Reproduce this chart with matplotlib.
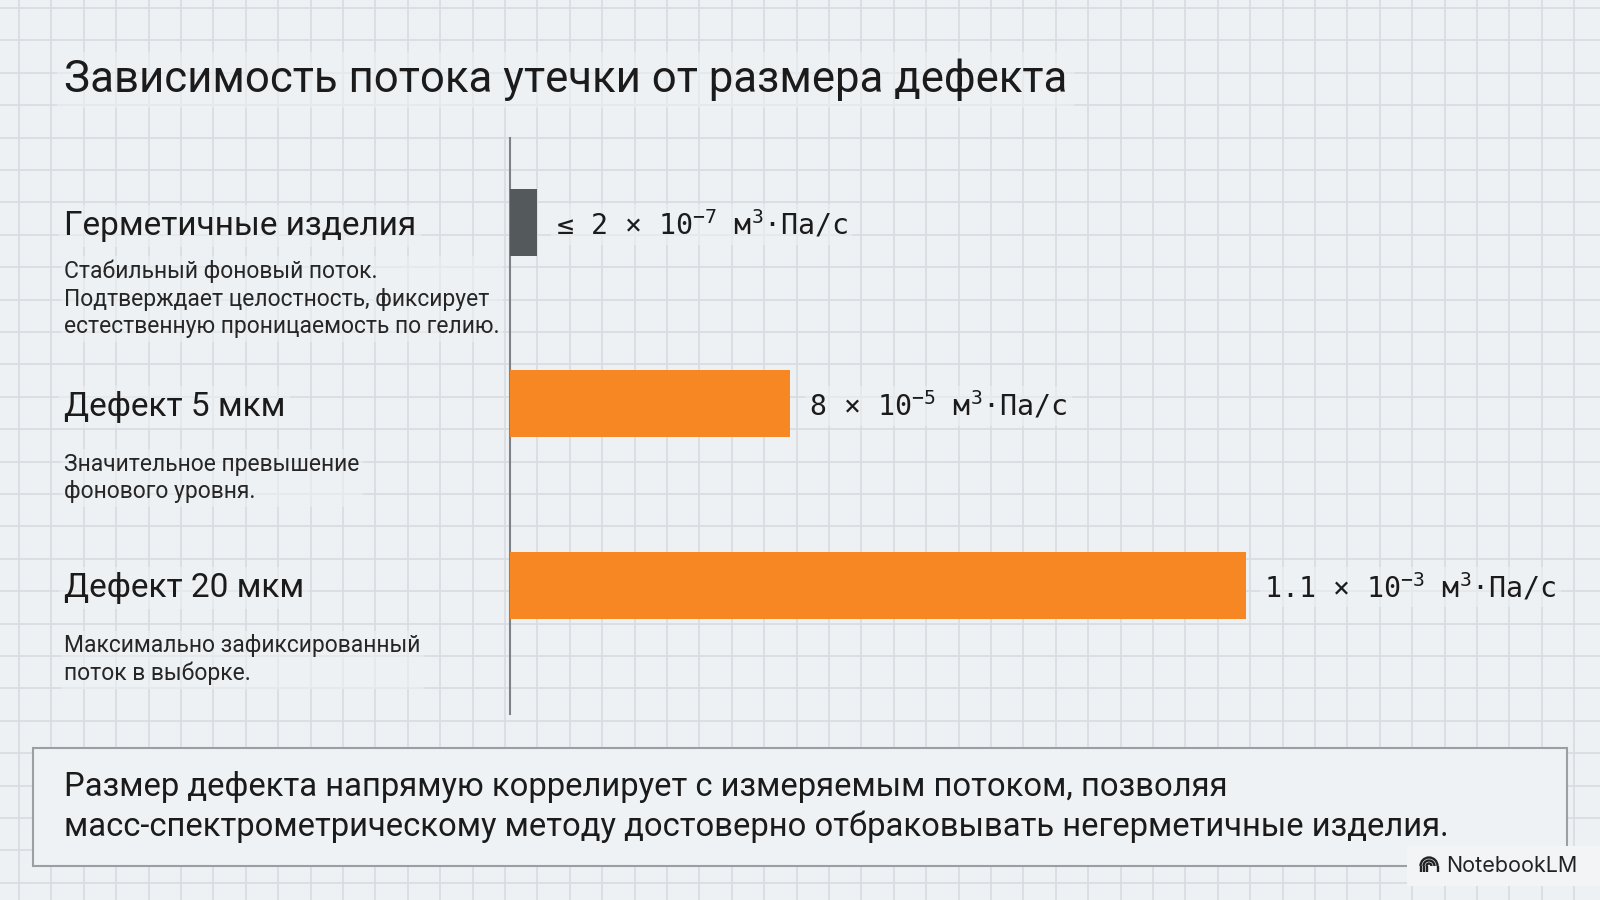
import matplotlib
matplotlib.use("Agg")
import matplotlib.pyplot as plt
from matplotlib.patches import Rectangle, Arc
from matplotlib.transforms import blended_transform_factory

mono = "DejaVu Sans Mono"
plt.rcParams["mathtext.fontset"] = "custom"
plt.rcParams["mathtext.rm"] = mono
plt.rcParams["mathtext.it"] = mono
plt.rcParams["mathtext.bf"] = mono

# ---------------- data ----------------
title = "Зависимость потока утечки от размера дефекта"
categories = ["Герметичные изделия", "Дефект 5 мкм", "Дефект 20 мкм"]
descriptions = [
    "Стабильный фоновый поток.\nПодтверждает целостность, фиксирует\nестественную проницаемость по гелию.",
    "Значительное превышение\nфонового уровня.",
    "Максимально зафиксированный\nпоток в выборке.",
]
leak_values = [2e-7, 8e-5, 1.1e-3]           # м³·Па/с
value_labels = ["≤ 2 × 10$^{-7}$ м$^{3}$·Па/с", "8 × 10$^{-5}$ м$^{3}$·Па/с",
                "1.1 × 10$^{-3}$ м$^{3}$·Па/с"]
bar_display_length = [0.037, 0.381, 1.0]     # relative bar lengths as drawn
bar_colors = ["#54595c", "#f68722", "#f68722"]
conclusion = ("Размер дефекта напрямую коррелирует с измеряемым потоком, позволяя\n"
              "масс-спектрометрическому методу достоверно отбраковывать негерметичные изделия.")

# ---------------- figure ----------------
BG = "#eef1f4"
GRID = "#d9dde1"
TXT = "#1b1b1b"
W, H = 1600, 900
fig = plt.figure(figsize=(16, 9), dpi=100, facecolor=BG)

bg = fig.add_axes([0, 0, 1, 1])
bg.set_xlim(0, W)
bg.set_ylim(H, 0)
bg.axis("off")
bg.set_facecolor(BG)
step = 32.4
x = 19.0
while x < W:
    bg.axvline(x, color=GRID, lw=1.3, zorder=0)
    x += step
y = 8.0
while y < H:
    bg.axhline(y, color=GRID, lw=1.3, zorder=0)
    y += step

font = "Roboto"
soft = dict(boxstyle="square,pad=0.15", facecolor=BG, edgecolor="none", alpha=0.6)

bg.text(64, 80, title, fontsize=31.5, family=font, color=TXT, va="center", ha="left",
        bbox=soft, zorder=3)

# ---------------- bars ----------------
ax_left, ax_right, ax_top, ax_bot = 510, 1572, 138, 714
ax = fig.add_axes([ax_left / W, 1 - ax_bot / H, (ax_right - ax_left) / W, (ax_bot - ax_top) / H])
ax.set_facecolor("none")
ypos = list(range(len(categories)))
ax.barh(ypos, bar_display_length, height=0.37, color=bar_colors, zorder=3)
ax.set_xlim(0, (ax_right - ax_left) / 736)
ax.set_ylim(2.71, -0.466)
for s in ["top", "right", "bottom"]:
    ax.spines[s].set_visible(False)
ax.spines["left"].set_color("#7d8286")
ax.spines["left"].set_linewidth(1.5)
ax.set_xticks([])
ax.set_yticks([])

for i, (v, lab) in enumerate(zip(bar_display_length, value_labels)):
    ax.annotate(lab, (v, i), xytext=(13.2, -1.5), textcoords="offset points",
                va="center", ha="left", fontsize=20.3, family=mono, color=TXT,
                bbox=soft, zorder=4)

# labels on the left, positioned with the bar axis' y-scale
tr = blended_transform_factory(bg.transData, ax.transData)
desc_offset = [0.205, 0.27, 0.27]
for i, (cat, desc) in enumerate(zip(categories, descriptions)):
    bg.text(64, i + 0.018, cat, transform=tr, fontsize=24, family=font, color=TXT,
            va="center", ha="left", bbox=soft, zorder=3)
    bg.text(64, i + desc_offset[i], desc, transform=tr, fontsize=16.5, family=font,
            color="#262626", va="top", ha="left", linespacing=1.25, bbox=soft, zorder=3)

# ---------------- conclusion box ----------------
bg.add_patch(Rectangle((33, 748), 1534, 118, facecolor="#eff2f4", edgecolor="#9a9fa3",
                       lw=1.5, zorder=2))
bg.text(64, 807, conclusion, fontsize=23.6, family=font, color=TXT, va="center",
        ha="left", linespacing=1.29, zorder=3)

# ---------------- NotebookLM badge ----------------
bg.add_patch(Rectangle((1407, 846), 193, 40, facecolor="#f2f4f6", edgecolor="none", zorder=4))
cx, cy = 1429, 866
for r in (2.5, 5.5, 8.5):
    bg.add_patch(Arc((cx, cy), 2 * r, 2 * r, theta1=180, theta2=360, color="#222", lw=1.7,
                     zorder=5))
    bg.plot([cx - r, cx - r], [cy, cy + 6], color="#222", lw=1.7, zorder=5,
            solid_capstyle="butt")
bg.plot([cx + 8.5, cx + 8.5], [cy, cy + 6], color="#222", lw=1.7, zorder=5,
        solid_capstyle="butt")
bg.text(1446, 866, "NotebookLM", fontsize=15.5, family="Inter", color="#222",
        va="center", ha="left", zorder=5)

fig.savefig("out.png", dpi=100, facecolor=BG)
